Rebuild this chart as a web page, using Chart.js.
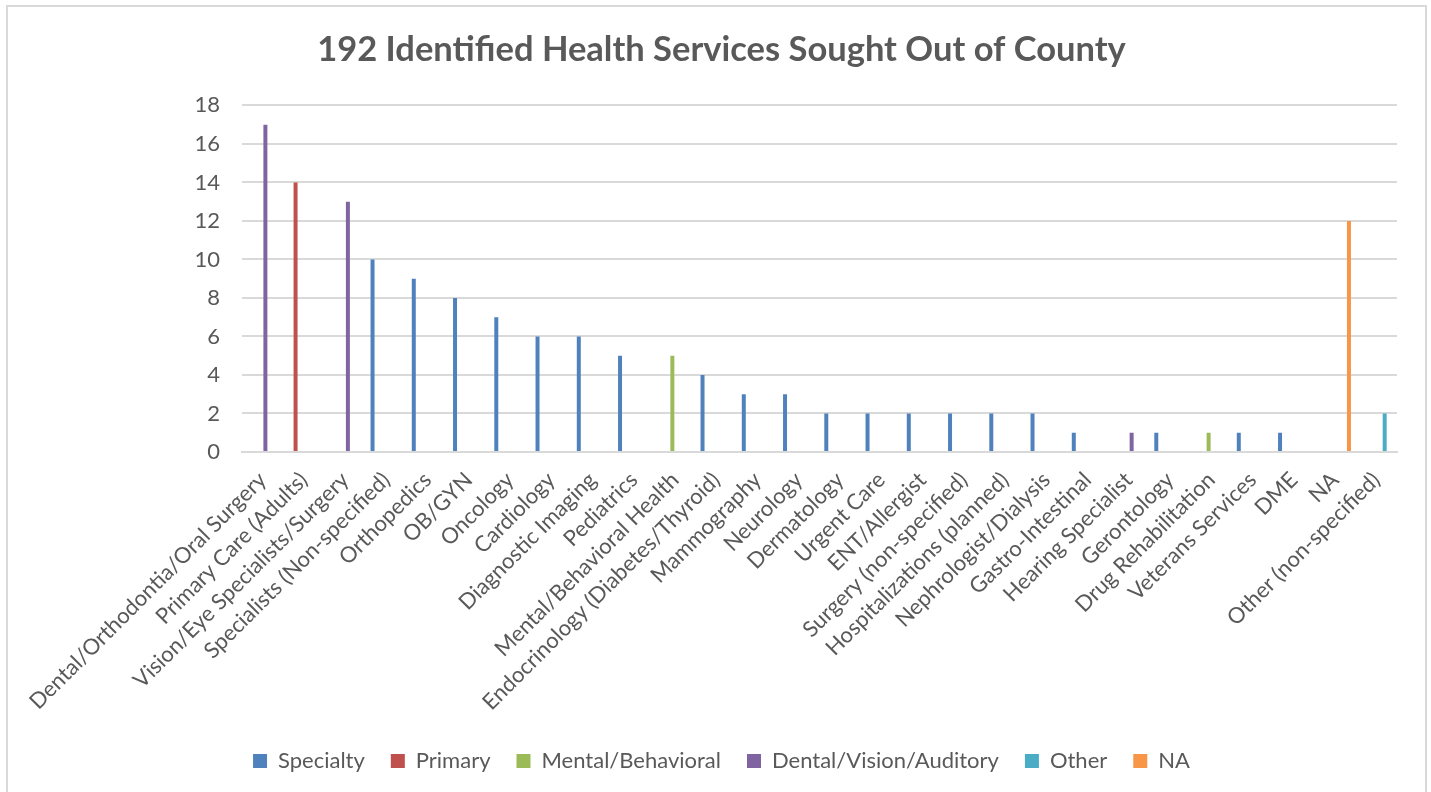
<!DOCTYPE html>
<html lang="en">
<head>
  <meta charset="UTF-8" />
  <title>192 Identified Health Services Sought Out of County</title>
  <script src="https://cdn.jsdelivr.net/npm/chart.js"></script>
  <style>
    html, body { margin: 0; padding: 0; background: #fff; }
    body { width: 1431px; height: 792px; position: relative; overflow: hidden; }
    .frame {
      position: absolute; left: 6px; top: 5px; width: 1421px; height: 820px;
      border: 2px solid #d9d9d9; box-sizing: border-box; pointer-events: none;
    }
    .wrap { position: absolute; left: 0; top: 0; width: 1431px; height: 792px; }
  </style>
</head>
<body>
  <div class="wrap"><canvas id="chart"></canvas></div>
  <div class="frame"></div>

  <script>
    const categories = [
      'Dental/Orthodontia/Oral Surgery', 'Primary Care (Adults)', 'Vision/Eye Specialists/Surgery',
      'Specialists (Non-specified)', 'Orthopedics', 'OB/GYN', 'Oncology', 'Cardiology',
      'Diagnostic Imaging', 'Pediatrics', 'Mental/Behavioral Health', 'Endocrinology (Diabetes/Thyroid)',
      'Mammography', 'Neurology', 'Dermatology', 'Urgent Care', 'ENT/Allergist',
      'Surgery (non-specified)', 'Hospitalizations (planned)', 'Nephrologist/Dialysis',
      'Gastro-Intestinal', 'Hearing Specialist', 'Gerontology', 'Drug Rehabilitation',
      'Veterans Services', 'DME', 'NA', 'Other (non-specified)'
    ];

    // one value per category, null where the category belongs to another group
    const specialty = [null, null, null, 10, 9, 8, 7, 6, 6, 5, null, 4, 3, 3, 2, 2, 2, 2, 2, 2, 1, null, 1, null, 1, 1, null, null];
    const primary   = [null, 14, null, null, null, null, null, null, null, null, null, null, null, null, null, null, null, null, null, null, null, null, null, null, null, null, null, null];
    const mental    = [null, null, null, null, null, null, null, null, null, null, 5, null, null, null, null, null, null, null, null, null, null, null, null, 1, null, null, null, null];
    const dental    = [17, null, 13, null, null, null, null, null, null, null, null, null, null, null, null, null, null, null, null, null, null, 1, null, null, null, null, null, null];
    const other     = [null, null, null, null, null, null, null, null, null, null, null, null, null, null, null, null, null, null, null, null, null, null, null, null, null, null, null, 2];
    const na        = [null, null, null, null, null, null, null, null, null, null, null, null, null, null, null, null, null, null, null, null, null, null, null, null, null, null, 12, null];

    const seriesNames = ['Specialty', 'Primary', 'Mental/Behavioral', 'Dental/Vision/Auditory', 'Other', 'NA'];
    const seriesColors = ['#4f81bd', '#c0504d', '#9bbb59', '#8064a2', '#4bacc6', '#f79646'];
    const seriesData = [specialty, primary, mental, dental, other, na];

    const yTicks = [0, 2, 4, 6, 8, 10, 12, 14, 16, 18];

    const textColor = '#595959';
    const gridColor = '#d9d9d9';
    const font = "Lato, 'Open Sans', sans-serif";

    new Chart(document.getElementById('chart'), {
      type: 'bar',
      data: {
        labels: categories,
        datasets: seriesData.map((d, i) => ({
          label: seriesNames[i],
          data: d,
          backgroundColor: seriesColors[i],
          borderWidth: 0,
          categoryPercentage: 0.805,
          barPercentage: 0.72
        }))
      },
      options: {
        responsive: true,
        maintainAspectRatio: false,
        animation: false,
        layout: { padding: { left: 12, right: 0, top: 0, bottom: 10 } },
        plugins: {
          title: {
            display: true,
            text: '192 Identified Health Services Sought Out of County',
            color: textColor,
            font: { family: font, size: 34.5, weight: 'bold' },
            padding: { top: 29, bottom: 35 }
          },
          legend: {
            position: 'bottom',
            labels: {
              color: textColor,
              font: { family: font, size: 22 },
              boxWidth: 14,
              boxHeight: 14,
              padding: 26
            }
          },
          tooltip: { enabled: false }
        },
        scales: {
          x: {
            grid: { display: false },
            border: { color: gridColor, width: 2 },
            ticks: {
              color: textColor,
              font: { family: font, size: 22 },
              minRotation: 45,
              maxRotation: 45,
              autoSkip: false,
              padding: 7
            },
            afterFit: (scale) => {
              const legendH = scale.chart.legend ? scale.chart.legend.height : 0;
              scale.height = 792 - 452 - legendH - 10;
            }
          },
          y: {
            min: 0,
            max: 18,
            afterBuildTicks: (scale) => { scale.ticks = yTicks.map(v => ({ value: v })); },
            grid: { color: gridColor, lineWidth: 2, drawTicks: false },
            border: { display: false },
            ticks: {
              color: textColor,
              font: { family: font, size: 22 },
              padding: 22
            },
            afterFit: (scale) => { scale.width = 230; }
          },
          // empty right gutter so the plot stops where the reference does
          gutter: {
            type: 'linear',
            position: 'right',
            grid: { display: false },
            border: { display: false },
            ticks: { display: false },
            afterFit: (scale) => { scale.width = 34; }
          }
        }
      }
    });
  </script>
</body>
</html>
